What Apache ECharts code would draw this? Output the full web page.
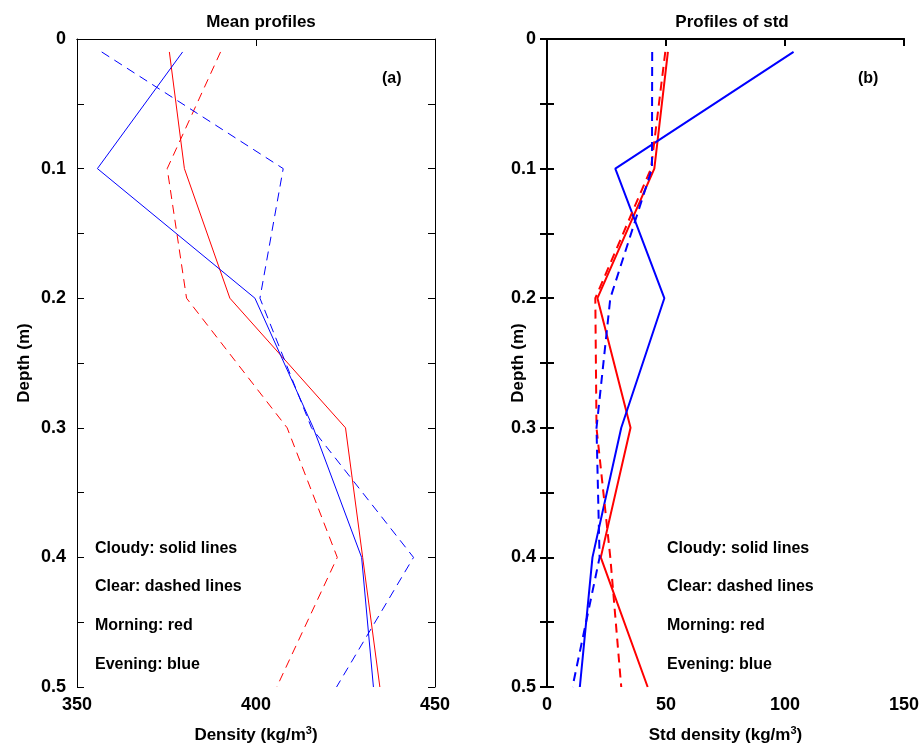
<!DOCTYPE html>
<html>
<head>
<meta charset="utf-8">
<script src="https://cdn.jsdelivr.net/npm/echarts@6/dist/echarts.min.js"></script>
<style>
html,body{margin:0;padding:0;background:#fff;}
#chart{width:922px;height:749px;}
</style>
</head>
<body>
<div id="chart"></div>
<script>
// ---- data ----
const depths = [0.01, 0.1, 0.2, 0.3, 0.4, 0.5];
// Mean density profiles (kg/m3)
const meanCloudyMorning = [375.8, 380.0, 392.7, 425.0, 429.8, 434.6];
const meanCloudyEvening = [379.5, 355.7, 399.7, 416.0, 429.5, 432.8];
const meanClearMorning  = [390.1, 375.2, 380.6, 408.7, 422.7, 405.8];
const meanClearEvening  = [356.9, 407.6, 401.1, 415.5, 444.0, 422.5];
// Std density profiles (kg/m3)
const stdCloudyMorning = [50.8, 45.1, 21.2, 35.1, 22.6, 42.3];
const stdCloudyEvening = [103.6, 28.7, 49.3, 31.2, 19.1, 13.8];
const stdClearMorning  = [49.7, 43.7, 20.3, 20.8, 26.6, 31.2];
const stdClearEvening  = [44.2, 44.1, 26.6, 20.8, 22.1, 10.7];

const leftXTicks = [350, 400, 450];
const rightXTicks = [0, 50, 100, 150];
const notes = ['Cloudy: solid lines', 'Clear: dashed lines', 'Morning: red', 'Evening: blue'];

// ---- helpers ----
function pairs(xs){ return xs.map((v,i)=>[v, depths[i]]); }
const FONT = 'Liberation Sans, Arial, Helvetica, sans-serif';
function depthLabel(v){ const r = Math.round(v*100); return r % 10 === 0 ? String(r/100) : ''; }

function yAxes(gridIndex, lw, nameGap){
  return [{
    gridIndex, type:'value', inverse:true, min:0, max:0.5, interval:0.05, position:'left',
    name:'Depth (m)', nameLocation:'middle', nameGap, nameMoveOverlap:false,
    nameTextStyle:{fontFamily:FONT, fontWeight:'bold', fontSize:17, color:'#000'},
    axisLine:{show:true, lineStyle:{color:'#000', width:lw}},
    axisTick:{show:true, inside:true, length:7, lineStyle:{color:'#000', width:lw}},
    axisLabel:{formatter:depthLabel, fontFamily:FONT, fontWeight:'bold', fontSize:18, color:'#000', margin:11},
    splitLine:{show:false}
  },{
    gridIndex, type:'value', inverse:true, min:0, max:0.5, interval:0.05, position:'right',
    axisLine:{show:true, lineStyle:{color:'#000', width:lw}},
    axisTick:{show:true, inside:true, length:7, lineStyle:{color:'#000', width:lw}},
    axisLabel:{show:false}, splitLine:{show:false}
  }];
}
function xAxes(gridIndex, min, max, lw, name){
  return [{
    gridIndex, type:'value', min, max, interval:50, position:'bottom',
    name, nameLocation:'middle', nameGap:38,
    nameTextStyle:{fontFamily:FONT, fontWeight:'bold', fontSize:17, color:'#000',
      rich:{a:{fontFamily:FONT, fontWeight:'bold', fontSize:17, color:'#000'},
            s:{fontFamily:FONT, fontWeight:'bold', fontSize:11, color:'#000', verticalAlign:'top', padding:[0,0,10,0]}}},
    axisLine:{show:true, lineStyle:{color:'#000', width:lw}},
    axisTick:{show:false},
    axisLabel:{fontFamily:FONT, fontWeight:'bold', fontSize:18, color:'#000', margin:9},
    splitLine:{show:false}
  },{
    gridIndex, type:'value', min, max, interval:50, position:'top',
    axisLine:{show:true, lineStyle:{color:'#000', width:lw}},
    axisTick:{show:true, inside:true, length:7, lineStyle:{color:'#000', width:lw}},
    axisLabel:{show:false}, splitLine:{show:false}
  }];
}
function line(data, xi, yi, color, width, dashed){
  return {type:'line', xAxisIndex:xi, yAxisIndex:yi, data:pairs(data), symbol:'none', silent:true,
    animation:false, lineStyle:{color, width, type: dashed ? [9,6] : 'solid'}};
}

const noteY = [550, 588, 627, 666];
const graphics = [];
notes.forEach((t,i)=>{
  graphics.push({type:'text', left:95, top:noteY[i]-9, style:{text:t, fill:'#000', font:'bold 16px '+FONT}});
  graphics.push({type:'text', left:667, top:noteY[i]-9, style:{text:t, fill:'#000', font:'bold 16px '+FONT}});
});
graphics.push({type:'text', left:382, top:71, style:{text:'(a)', fill:'#000', font:'bold 16px '+FONT}});
graphics.push({type:'text', left:858, top:71, style:{text:'(b)', fill:'#000', font:'bold 16px '+FONT}});

const option = {
  animation:false,
  backgroundColor:'#fff',
  title:[
    {text:'Mean profiles', left:256, top:9, textAlign:'center', textStyle:{fontFamily:FONT, fontWeight:'bold', fontSize:17, color:'#000'}},
    {text:'Profiles of std', left:727, top:9, textAlign:'center', textStyle:{fontFamily:FONT, fontWeight:'bold', fontSize:17, color:'#000'}}
  ],
  grid:[
    {left:77, top:39, width:358, height:653},
    {left:547, top:39, width:359, height:653}
  ],
  xAxis:[
    ...xAxes(0, 350, 450, 1, '{a|Density (kg/m}{s|3}{a|)}'),
    ...xAxes(1, 0, 150, 2, '{a|Std density (kg/m}{s|3}{a|)}')
  ],
  yAxis:[
    ...yAxes(0, 1, 44),
    ...yAxes(1, 2, 20)
  ],
  series:[
    line(meanCloudyMorning, 0, 0, '#ff0000', 1, false),
    line(meanCloudyEvening, 0, 0, '#0000ff', 1, false),
    line(meanClearMorning, 0, 0, '#ff0000', 1, true),
    line(meanClearEvening, 0, 0, '#0000ff', 1, true),
    line(stdCloudyMorning, 2, 2, '#ff0000', 2, false),
    line(stdCloudyEvening, 2, 2, '#0000ff', 2, false),
    line(stdClearMorning, 2, 2, '#ff0000', 2, true),
    line(stdClearEvening, 2, 2, '#0000ff', 2, true)
  ],
  graphic: graphics
};
const chart = echarts.init(document.getElementById('chart'), null, {renderer:'canvas'});
chart.setOption(option);
</script>
</body>
</html>
